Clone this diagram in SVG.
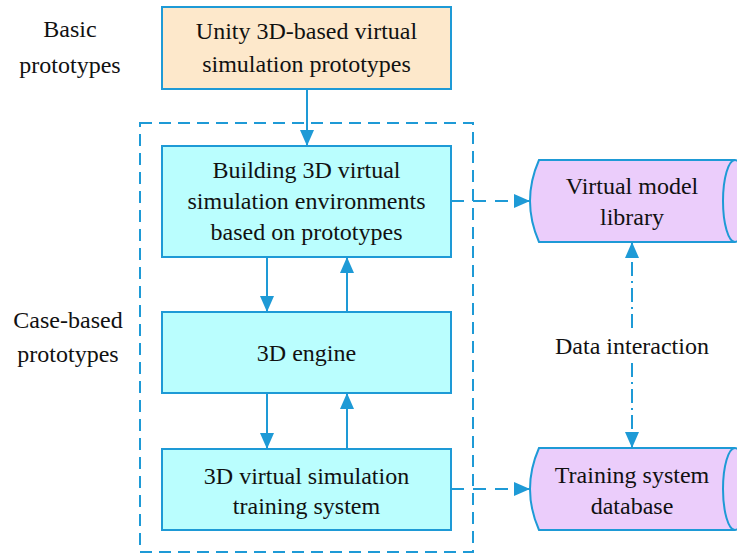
<svg xmlns="http://www.w3.org/2000/svg" width="737" height="554" viewBox="0 0 737 554">
  <style>
    .box { stroke: #1e9ad6; stroke-width: 2; }
    .proto { fill: #fde8cb; }
    .case { fill: #bafefe; }
    .db { fill: #ebcdfb; stroke: #1e9ad6; stroke-width: 2; }
    .lbl { font-family: 'Liberation Serif', 'Times New Roman', Times, serif; font-size: 24px; fill: #111; text-anchor: middle; }
    .line { stroke: #1e9ad6; stroke-width: 2; fill: none; }
    .dash { stroke-dasharray: 13 9; }
    .dashdot { stroke-dasharray: 14 5 2 5; }
    .frame { stroke: #1e9ad6; stroke-width: 2; fill: none; stroke-dasharray: 12 7; }
  </style>
  <defs>
    <marker id="arrow" viewBox="0 0 16 14" refX="16" refY="7" markerWidth="16" markerHeight="14" markerUnits="userSpaceOnUse" orient="auto-start-reverse">
      <path d="M0,0 L16,7 L0,14 Z" fill="#1e9ad6"/>
    </marker>
  </defs>

  <rect width="737" height="554" fill="#ffffff"/>

  <!-- side labels -->
  <g id="label-basic">
    <text class="lbl" x="70" y="37">Basic</text>
    <text class="lbl" x="70" y="73">prototypes</text>
  </g>
  <g id="label-case">
    <text class="lbl" x="68" y="328">Case-based</text>
    <text class="lbl" x="68" y="362">prototypes</text>
  </g>

  <!-- dashed frame around the case-based prototypes -->
  <rect id="case-frame" class="frame" x="140" y="123" width="333" height="429"/>

  <!-- connectors -->
  <g id="connectors">
    <path class="line" d="M307,89 L307,146" marker-end="url(#arrow)"/>
    <path class="line" d="M267,257 L267,312" marker-end="url(#arrow)"/>
    <path class="line" d="M347,312 L347,257" marker-end="url(#arrow)"/>
    <path class="line" d="M267,393 L267,449" marker-end="url(#arrow)"/>
    <path class="line" d="M347,449 L347,393" marker-end="url(#arrow)"/>
    <path class="line dash" d="M451,201 L530,201" marker-end="url(#arrow)"/>
    <path class="line dash" d="M451,489 L530,489" marker-end="url(#arrow)"/>
    <path class="line dashdot" d="M632,328 L632,242" marker-end="url(#arrow)"/>
    <path class="line dashdot" d="M632,363 L632,448" marker-end="url(#arrow)"/>
    <text class="lbl" x="632" y="354">Data interaction</text>
  </g>

  <!-- nodes -->
  <g id="unity-prototypes">
    <rect class="box proto" x="162" y="7" width="289" height="82"/>
    <text class="lbl" x="306.5" y="39">Unity 3D-based virtual</text>
    <text class="lbl" x="306.5" y="72">simulation prototypes</text>
  </g>
  <g id="building-environments">
    <rect class="box case" x="162" y="146" width="289" height="111"/>
    <text class="lbl" x="306.5" y="178">Building 3D virtual</text>
    <text class="lbl" x="306.5" y="209">simulation environments</text>
    <text class="lbl" x="306.5" y="240">based on prototypes</text>
  </g>
  <g id="engine">
    <rect class="box case" x="162" y="312" width="289" height="81"/>
    <text class="lbl" x="306.5" y="361">3D engine</text>
  </g>
  <g id="training-system">
    <rect class="box case" x="162" y="449" width="289" height="81"/>
    <text class="lbl" x="306.5" y="484">3D virtual simulation</text>
    <text class="lbl" x="306.5" y="514">training system</text>
  </g>
  <g id="model-library">
    <path class="db" d="M539,160 L735,160 A12,41 0 0 1 735,242 L539,242 Q521,201 539,160 Z"/>
    <path class="line" d="M735,160 A12,41 0 0 0 735,242"/>
    <text class="lbl" x="632" y="194">Virtual model</text>
    <text class="lbl" x="632" y="225">library</text>
  </g>
  <g id="system-database">
    <path class="db" d="M539,448 L735,448 A12,41 0 0 1 735,530 L539,530 Q521,489 539,448 Z"/>
    <path class="line" d="M735,448 A12,41 0 0 0 735,530"/>
    <text class="lbl" x="632" y="483">Training system</text>
    <text class="lbl" x="632" y="514">database</text>
  </g>
</svg>
